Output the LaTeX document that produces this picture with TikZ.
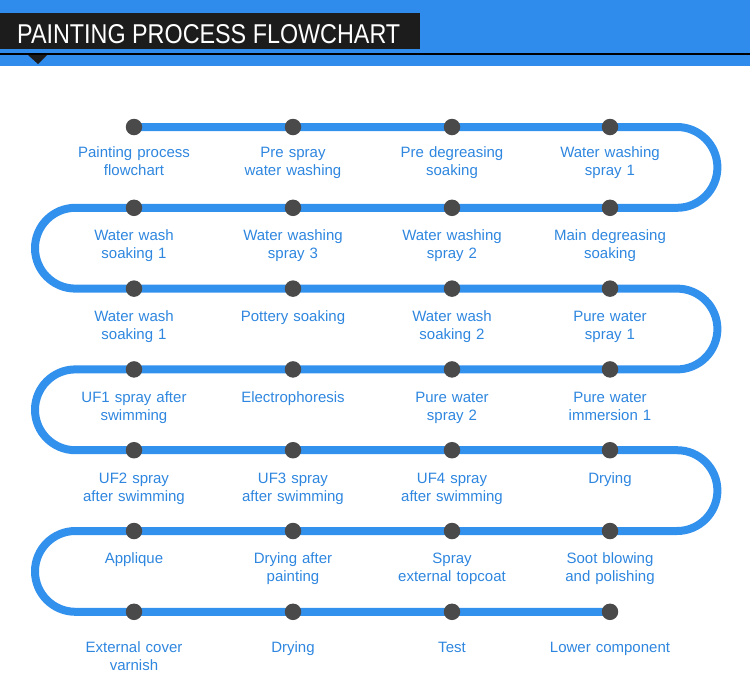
\documentclass[tikz,border=0pt]{standalone}
\usepackage{fontspec}
\setmainfont{Liberation Sans}
\usepackage{graphicx}
\definecolor{bandblue}{HTML}{2F8CEC}
\definecolor{flowblue}{HTML}{3391EE}
\definecolor{textblue}{HTML}{2E86DF}
\definecolor{dotgray}{HTML}{4A4A4A}
\definecolor{boxblack}{HTML}{1C1C1C}
\tikzset{
  flow/.style={draw=flowblue, line width=8pt, line join=round},
  dotnode/.style={circle, fill=dotgray, minimum size=16.5pt, inner sep=0pt},
  lbl/.style={text=textblue, font=\fontsize{15}{18}\selectfont, align=center, text width=170pt, inner sep=0pt, anchor=base},
}
\begin{document}
\begin{tikzpicture}[x=1pt,y=1pt]
\useasboundingbox (0,0) rectangle (750,-673);
% header
\fill[bandblue] (0,0) rectangle (750,-66);
\fill[boxblack] (0,-13) rectangle (420,-49);
\fill[black] (0,-53) rectangle (750,-55);
\fill[boxblack] (28,-55) -- (47,-55) -- (38,-64) -- cycle;
\node[anchor=base west, inner sep=0pt, text=white] (title) at (17,-43)
  {\resizebox{383pt}{19pt}{\fontsize{27}{30}\selectfont PAINTING PROCESS FLOWCHART}};
% dots
\foreach \r/\y in {0/127,1/207.8,2/288.6,3/369.4,4/450.2,5/531,6/611.8}{
  \foreach \c/\x in {0/134,1/293,2/452,3/610}{
    \coordinate (p\r\c) at (\x,-\y);
  }
}
\foreach \r/\y in {0/127,1/207.8,2/288.6,3/369.4,4/450.2,5/531}{
  \coordinate (R\r) at (677,-\y);
  \coordinate (L\r) at (75.4,-\y);
}
\path[flow] (p00) -- (p03) -- (R0) arc[start angle=90,end angle=-90,radius=40.4]
  -- (L1) arc[start angle=90,end angle=270,radius=40.4]
  -- (R2) arc[start angle=90,end angle=-90,radius=40.4]
  -- (L3) arc[start angle=90,end angle=270,radius=40.4]
  -- (R4) arc[start angle=90,end angle=-90,radius=40.4]
  -- (L5) arc[start angle=90,end angle=270,radius=40.4]
  -- (p63);
\foreach \r in {0,...,6}{
  \foreach \c in {0,...,3}{
    \node[dotnode] (d\r\c) at (p\r\c) {};
  }
}
% labels
\node[lbl] (t00) at ([yshift=-30.5pt]p00) {Painting process\\flowchart};
\node[lbl] (t01) at ([yshift=-30.5pt]p01) {Pre spray\\water washing};
\node[lbl] (t02) at ([yshift=-30.5pt]p02) {Pre degreasing\\soaking};
\node[lbl] (t03) at ([yshift=-30.5pt]p03) {Water washing\\spray 1};
\node[lbl] (t10) at ([yshift=-33pt]p10) {Water wash\\soaking 1};
\node[lbl] (t11) at ([yshift=-33pt]p11) {Water washing\\spray 3};
\node[lbl] (t12) at ([yshift=-33pt]p12) {Water washing\\spray 2};
\node[lbl] (t13) at ([yshift=-33pt]p13) {Main degreasing\\soaking};
\node[lbl] (t20) at ([yshift=-33pt]p20) {Water wash\\soaking 1};
\node[lbl] (t21) at ([yshift=-33pt]p21) {Pottery soaking};
\node[lbl] (t22) at ([yshift=-33pt]p22) {Water wash\\soaking 2};
\node[lbl] (t23) at ([yshift=-33pt]p23) {Pure water\\spray 1};
\node[lbl] (t30) at ([yshift=-33pt]p30) {UF1 spray after\\swimming};
\node[lbl] (t31) at ([yshift=-33pt]p31) {Electrophoresis};
\node[lbl] (t32) at ([yshift=-33pt]p32) {Pure water\\spray 2};
\node[lbl] (t33) at ([yshift=-33pt]p33) {Pure water\\immersion 1};
\node[lbl] (t40) at ([yshift=-33pt]p40) {UF2 spray\\after swimming};
\node[lbl] (t41) at ([yshift=-33pt]p41) {UF3 spray\\after swimming};
\node[lbl] (t42) at ([yshift=-33pt]p42) {UF4 spray\\after swimming};
\node[lbl] (t43) at ([yshift=-33pt]p43) {Drying};
\node[lbl] (t50) at ([yshift=-32pt]p50) {Applique};
\node[lbl] (t51) at ([yshift=-32pt]p51) {Drying after\\painting};
\node[lbl] (t52) at ([yshift=-32pt]p52) {Spray\\external topcoat};
\node[lbl] (t53) at ([yshift=-32pt]p53) {Soot blowing\\and polishing};
\node[lbl] (t60) at ([yshift=-41pt]p60) {External cover\\varnish};
\node[lbl] (t61) at ([yshift=-41pt]p61) {Drying};
\node[lbl] (t62) at ([yshift=-41pt]p62) {Test};
\node[lbl] (t63) at ([yshift=-41pt]p63) {Lower component};
\end{tikzpicture}
\end{document}
